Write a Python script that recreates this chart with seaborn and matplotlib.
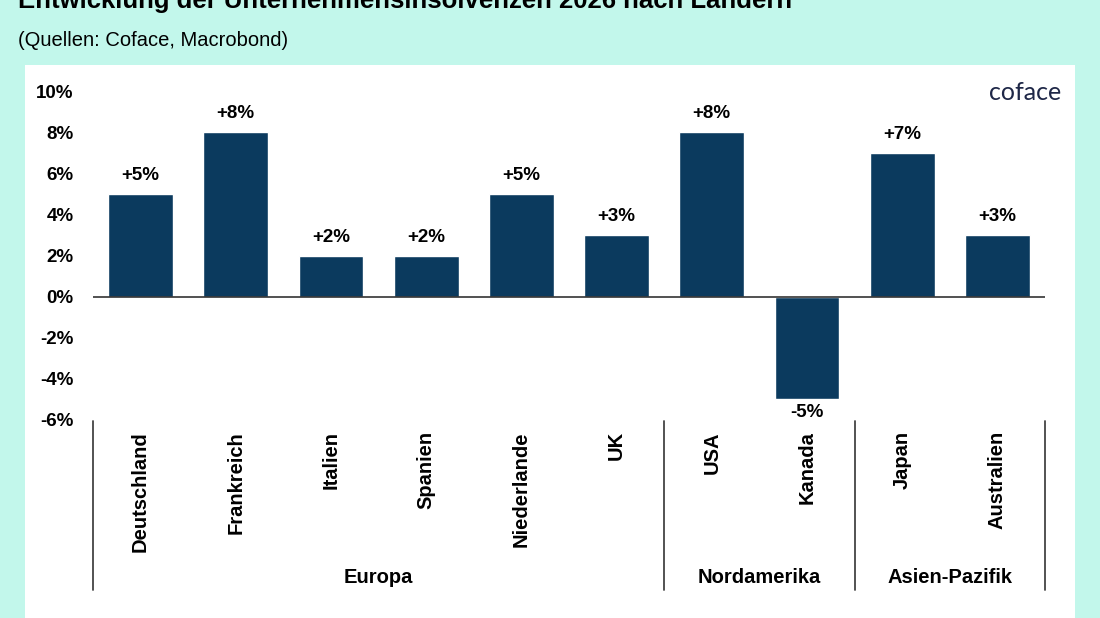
import matplotlib
matplotlib.use("Agg")
import matplotlib.pyplot as plt
import matplotlib.transforms as mtransforms
from matplotlib.patches import Rectangle
import seaborn as sns
import pandas as pd

countries = ["Deutschland", "Frankreich", "Italien", "Spanien", "Niederlande", "UK",
             "USA", "Kanada", "Japan", "Australien"]
values = [5, 8, 2, 2, 5, 3, 8, -5, 7, 3]
groups = ["Europa", "Nordamerika", "Asien-Pazifik"]
group_sizes = [6, 2, 2]
yticks = [-6, -4, -2, 0, 2, 4, 6, 8, 10]

title = "Entwicklung der Unternehmensinsolvenzen 2026 nach Ländern"
subtitle = "(Quellen: Coface, Macrobond)"

BG = "#c2f7eb"
BAR = "#0b3a5e"
FONT = ["Liberation Sans", "DejaVu Sans"]

sns.set_style("white")
plt.rcParams["font.family"] = FONT
plt.rcParams["text.color"] = "black"
plt.rcParams["xtick.color"] = "black"
plt.rcParams["ytick.color"] = "black"

fig = plt.figure(figsize=(11, 6.18), dpi=100)
fig.patch.set_facecolor(BG)
panel = Rectangle((25 / 1100, 0), 1050 / 1100, 1 - 65 / 618,
                  transform=fig.transFigure, facecolor="white",
                  edgecolor="none", zorder=-5)
fig.add_artist(panel)

ax = fig.add_axes([93 / 1100, 1 - 420 / 618, 952 / 1100, 329 / 618])
ax.set_facecolor("none")
ax.set_zorder(1)

df = pd.DataFrame({"Land": countries, "Wert": values})
sns.barplot(data=df, x="Land", y="Wert", color=BAR, width=0.68, saturation=1, ax=ax)

ax.set_xlim(-0.5, len(countries) - 0.5)
ax.set_ylim(-6, 10)
ax.set_yticks(yticks)
ax.set_yticklabels([f"{t}%" for t in yticks], fontsize=13.5, fontweight="bold")
ax.tick_params(axis="y", length=0, pad=14, colors="black")
ax.tick_params(axis="x", length=0, pad=8, colors="black")
plt.setp(ax.get_xticklabels(), rotation=90, fontsize=14.5, fontweight="bold", va="top")
ax.set_xlabel("")
ax.set_ylabel("")
for s in ax.spines.values():
    s.set_visible(False)
ax.axhline(0, color="#333333", lw=1.2, zorder=3)

for i, v in enumerate(values):
    lab = f"+{v}%" if v > 0 else f"{v}%"
    if v >= 0:
        ax.annotate(lab, (i, v), xytext=(0, 7), textcoords="offset points",
                    ha="center", va="bottom", fontsize=13.5, fontweight="bold")
    else:
        ax.annotate(lab, (i, v), xytext=(0, -3), textcoords="offset points",
                    ha="center", va="top", fontsize=13.5, fontweight="bold")

trans = mtransforms.blended_transform_factory(ax.transData, ax.transAxes)
bounds = [-0.5]
for n in group_sizes:
    bounds.append(bounds[-1] + n)
for b in bounds:
    ax.plot([b, b], [-0.003, -0.517], transform=trans, color="#444444", lw=1.3,
            clip_on=False)
for g, lo, hi in zip(groups, bounds[:-1], bounds[1:]):
    ax.text((lo + hi) / 2, -0.478, g, transform=trans, ha="center", va="center",
            fontsize=14.5, fontweight="bold")

fig.text(18 / 1100, 1 - 8 / 618, title, ha="left", va="baseline", fontsize=18.5,
         fontweight="bold")
fig.text(18 / 1100, 1 - 40 / 618, subtitle, ha="left", va="center", fontsize=14.5)
fig.text(1061 / 1100, 1 - 93 / 618, "coface", ha="right", va="center", fontsize=18,
         color="#1e2747", family=["Lato", "DejaVu Sans"])

fig.savefig("out.png", dpi=100, facecolor=BG)
